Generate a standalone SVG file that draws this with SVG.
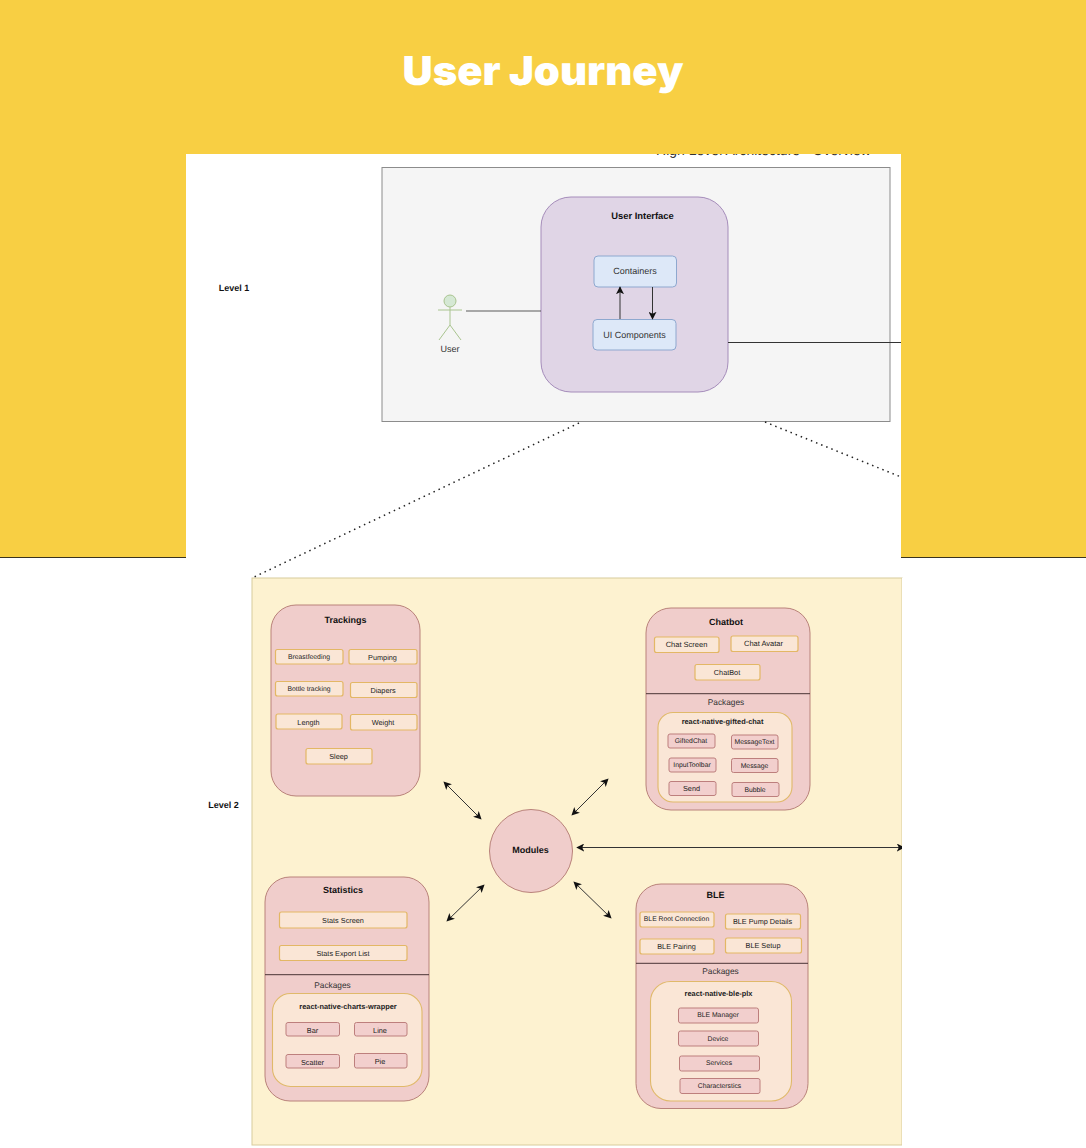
<svg xmlns="http://www.w3.org/2000/svg" width="1086" height="1148" viewBox="0 0 1086 1148">
<style>
text{font-family:"Liberation Sans",Arial,sans-serif;fill:#222;text-anchor:middle;dominant-baseline:central;text-rendering:geometricPrecision}
.b{font-weight:700}
.h{font-size:9px;font-weight:700;fill:#111}
.pk{font-size:8.300px;fill:#333}
.lib{font-size:7.400px;font-weight:700}
.t{font-size:7.300px}
.s{font-size:6.800px}
.m{font-size:9px;fill:#333}
.group{fill:#f0cdcb;stroke:#b9827a;stroke-width:1}
.item{fill:#fae6d6;stroke:#e3b765;stroke-width:1.2}
.inner{fill:#fae6d6;stroke:#e0b96a;stroke-width:1.1}
.pkg{fill:#f2cfcd;stroke:#bd7f7d;stroke-width:1}
.blue{fill:#dde8f8;stroke:#8ea8cf;stroke-width:1}
.div{stroke:#4a3436;stroke-width:1;fill:none}
.line{stroke:#333;stroke-width:1;fill:none}
.act{stroke:#a9c48f;stroke-width:1;fill:none}
.dots{stroke:#222;stroke-width:1.5;stroke-dasharray:1.5 4;fill:none}
</style>
<defs>
<marker id="ah" viewBox="0 0 10 10" refX="9" refY="5" markerWidth="8" markerHeight="8" markerUnits="userSpaceOnUse" orient="auto-start-reverse"><path d="M0 0L10 5L0 10L2.5 5Z" fill="#111"/></marker>
</defs>
<rect width="1086" height="1148" fill="#fff"/>
<text x="763.500" y="150" font-size="14" style="fill:#333">High Level Architecture - Overview</text>
<rect id="banner" width="1086" height="154" fill="#f8cf43"/>
<rect x="0" y="154" width="186" height="403" fill="#f8cf43"/>
<rect x="901" y="154" width="185" height="403" fill="#f8cf43"/>
<path d="M0 557.500H186M901 557.500H1086" stroke="#3a3320" stroke-width="1"/>
<text id="title" x="543" y="85" font-size="40" style="font-family:Inter,'Liberation Sans',sans-serif;font-weight:900;fill:#fff;dominant-baseline:auto" textLength="281" lengthAdjust="spacingAndGlyphs">User Journey</text>

<g id="level-1-box"><rect x="382" y="167.500" width="508" height="254" fill="#f5f5f5" stroke="#8c8c8c"/></g>
<rect id="level-2-box" x="252" y="578" width="650" height="567" fill="#fdf2d0" stroke="#d8cc9c"/>
<text id="level-1" x="234" y="288" class="h">Level 1</text>
<text id="level-2" x="223.500" y="805" class="h">Level 2</text>

<g id="user">
<circle cx="450" cy="301" r="6" fill="#d5e8d4" stroke="#a9c48f"/>
<path class="act" d="M438 310H462M450 307V325L439 340M450 325L461 340"/>
<text x="450" y="349" class="m">User</text>
</g>
<g id="user-interface">
<rect x="541" y="197" width="187" height="195" rx="30" fill="#e0d5e6" stroke="#a58cba"/>
<text x="642.500" y="215.500" class="h" style="font-size:9.400px">User Interface</text>
</g>
<g id="containers"><rect class="blue" x="594" y="256" width="82.500" height="31" rx="4"/><text x="635" y="271" class="m">Containers</text></g>
<g id="ui-components"><rect class="blue" x="593" y="319.500" width="83" height="30.500" rx="4"/><text x="634.500" y="334.500" class="m">UI Components</text></g>

<g id="connectors">
<path class="line" d="M466 311H541" stroke-opacity=".8"/>
<path class="line" d="M728 342.500H901"/>
<path class="line" d="M620 319V287" marker-end="url(#ah)"/>
<path class="line" d="M652.500 287V319" marker-end="url(#ah)"/>
<path class="dots" d="M579 423L252 578"/>
<path class="dots" d="M765 422L901 477"/>
<path class="line" d="M444 782L481 819" marker-start="url(#ah)" marker-end="url(#ah)"/>
<path class="line" d="M572 815L608 779" marker-start="url(#ah)" marker-end="url(#ah)"/>
<path class="line" d="M577 847.500H904" marker-start="url(#ah)" marker-end="url(#ah)"/>
<path class="line" d="M447 921L484 885" marker-start="url(#ah)" marker-end="url(#ah)"/>
<path class="line" d="M574 882L611 918" marker-start="url(#ah)" marker-end="url(#ah)"/>
</g>

<g id="modules"><circle class="group" cx="531" cy="851" r="41.500"/><text x="530.500" y="850" class="h">Modules</text></g>

<g id="trackings">
<rect class="group" x="271" y="605" width="149" height="191" rx="25"/>
<text x="345.500" y="619.500" class="h">Trackings</text>
<rect class="item" x="275.500" y="649.500" width="67.500" height="14.500" rx="2"/><text x="309" y="657" class="s">Breastfeeding</text>
<rect class="item" x="349" y="649.500" width="68" height="14.500" rx="2"/><text x="382.500" y="657" class="t">Pumping</text>
<rect class="item" x="275.500" y="681.500" width="67.500" height="14.500" rx="2"/><text x="309" y="689" class="s">Bottle tracking</text>
<rect class="item" x="350.500" y="682.500" width="66.500" height="15" rx="2"/><text x="383" y="690" class="t">Diapers</text>
<rect class="item" x="276" y="714" width="66" height="15" rx="2"/><text x="308.500" y="722" class="t">Length</text>
<rect class="item" x="350.500" y="714.500" width="66.500" height="15.500" rx="2"/><text x="383" y="722.500" class="t">Weight</text>
<rect class="item" x="306" y="748.500" width="66" height="15.500" rx="2"/><text x="338.500" y="756.500" class="t">Sleep</text>
</g>

<g id="chatbot">
<rect class="group" x="646" y="608" width="164" height="202" rx="25"/>
<text x="726" y="622" class="h">Chatbot</text>
<rect class="item" x="654.500" y="637" width="64.500" height="15.500" rx="2"/><text x="686.500" y="644.500" class="t" style="font-size:7.500px">Chat Screen</text>
<rect class="item" x="731" y="636" width="67" height="15.500" rx="2"/><text x="763.500" y="643.500" class="t" style="font-size:7.500px">Chat Avatar</text>
<rect class="item" x="695" y="664.500" width="65" height="15.500" rx="2"/><text x="727" y="672" class="t">ChatBot</text>
<path class="div" d="M646 693.700H810"/>
<text x="726" y="702" class="pk">Packages</text>
<rect class="inner" x="658" y="712.500" width="134" height="89.500" rx="15"/>
<text x="722.500" y="721" class="lib">react-native-gifted-chat</text>
<rect class="pkg" x="668" y="734" width="47" height="14" rx="2"/><text x="691" y="741" class="s">GiftedChat</text>
<rect class="pkg" x="731.500" y="735" width="46.500" height="14" rx="2"/><text x="754.500" y="742" class="s">MessageText</text>
<rect class="pkg" x="669" y="758" width="47" height="14" rx="2"/><text x="692" y="765" class="s">InputToolbar</text>
<rect class="pkg" x="731.500" y="758.500" width="46.500" height="14" rx="2"/><text x="754.500" y="766" class="s">Message</text>
<rect class="pkg" x="669" y="781.500" width="47" height="14" rx="2"/><text x="691.500" y="788.500" class="t">Send</text>
<rect class="pkg" x="732" y="782.500" width="47" height="14" rx="2"/><text x="755" y="790" class="s">Bubble</text>
</g>

<g id="statistics">
<rect class="group" x="265" y="877" width="164" height="224" rx="25"/>
<text x="343" y="889.500" class="h">Statistics</text>
<rect class="item" x="279.500" y="912" width="127.500" height="16" rx="2"/><text x="343" y="920" class="t">Stats Screen</text>
<rect class="item" x="279.500" y="945.500" width="127.500" height="15" rx="2"/><text x="343" y="953" class="t">Stats Export List</text>
<path class="div" d="M265 974.700H429"/>
<text x="332.500" y="985" class="pk">Packages</text>
<rect class="inner" x="272.500" y="993.500" width="149.500" height="93" rx="18"/>
<text x="348" y="1006" class="lib">react-native-charts-wrapper</text>
<rect class="pkg" x="286" y="1022.500" width="53.500" height="13.500" rx="2"/><text x="312.500" y="1030" class="t">Bar</text>
<rect class="pkg" x="354.500" y="1022.500" width="52.500" height="13.500" rx="2"/><text x="380" y="1030" class="t">Line</text>
<rect class="pkg" x="286" y="1054.500" width="53.500" height="13.500" rx="2"/><text x="312.500" y="1062" class="t">Scatter</text>
<rect class="pkg" x="354.500" y="1053.500" width="52.500" height="14.500" rx="2"/><text x="380" y="1061" class="t">Pie</text>
</g>

<g id="ble">
<rect class="group" x="636" y="884" width="172" height="224.500" rx="25"/>
<text x="715.500" y="895" class="h">BLE</text>
<rect class="item" x="640" y="912" width="74" height="15" rx="2"/><text x="676.500" y="919.500" class="s">BLE Root Connection</text>
<rect class="item" x="725.500" y="914" width="75" height="15" rx="2"/><text x="762.500" y="921.500" class="t">BLE Pump Details</text>
<rect class="item" x="640" y="939" width="74" height="15" rx="2"/><text x="676.500" y="946.500" class="t">BLE Pairing</text>
<rect class="item" x="725.500" y="938" width="76" height="15" rx="2"/><text x="763" y="945.500" class="t">BLE Setup</text>
<path class="div" d="M636 963.300H808"/>
<text x="720.500" y="971" class="pk">Packages</text>
<rect class="inner" x="650.500" y="981.500" width="141" height="119.500" rx="20"/>
<text x="718.500" y="993" class="lib">react-native-ble-plx</text>
<rect class="pkg" x="678.500" y="1008" width="80" height="15" rx="2"/><text x="718" y="1015.500" class="s">BLE Manager</text>
<rect class="pkg" x="678.500" y="1031" width="80" height="15" rx="2"/><text x="718" y="1039" class="s">Device</text>
<rect class="pkg" x="679.500" y="1056" width="80" height="15" rx="2"/><text x="719" y="1063.500" class="s">Services</text>
<rect class="pkg" x="680" y="1078.500" width="80" height="15" rx="2"/><text x="719.500" y="1086" class="s">Characterstics</text>
</g>
<rect x="902" y="578" width="184" height="570" fill="#fff"/>
</svg>
